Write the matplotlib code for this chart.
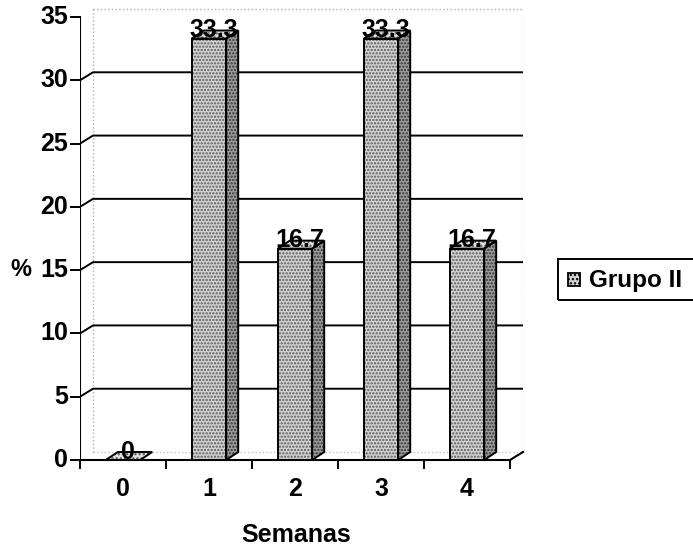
import matplotlib
matplotlib.use("Agg")
import matplotlib.pyplot as plt
from matplotlib.patches import Polygon, Rectangle

plt.rcParams['font.family'] = ['Liberation Sans', 'DejaVu Sans']
plt.rcParams['hatch.linewidth'] = 1.1

categories = ["0", "1", "2", "3", "4"]
values = [0, 33.3, 16.7, 33.3, 16.7]
value_labels = ["0", "33.3", "16.7", "33.3", "16.7"]
yticks = [0, 5, 10, 15, 20, 25, 30, 35]
series_name = "Grupo II"

W, H = 693, 551
fig = plt.figure(figsize=(W / 100, H / 100), dpi=100)
fig.patch.set_facecolor('white')

# axes spanning pixel x 80..523, y 460..8
ax = fig.add_axes([80 / W, (H - 460) / H, 443 / W, 452 / H])
ax.set_xlim(-0.5, -0.5 + 443 / 86)
ax.set_ylim(0, 452 / 12.657)
ax.axis('off')

dx, dy = 13 / 86, 8 / 12.657       # wall depth
bdx, bdy = 12 / 86, 8 / 12.657     # bar depth
bw = 0.4
n = len(categories)
xs = list(range(n))

# back wall (faint dotted)
ax.plot([-0.5 + dx, n - 0.5 + dx], [35 + dy, 35 + dy], color='#b0b0b0', lw=1, ls=':', zorder=1)
ax.plot([-0.5 + dx, -0.5 + dx], [dy, 35 + dy], color='#b0b0b0', lw=1, ls=':', zorder=1)
ax.plot([n - 0.5 + dx, n - 0.5 + dx], [dy, 35 + dy], color='#c0c0c0', lw=1, ls=':', zorder=1)
ax.plot([-0.5 + dx, n - 0.5 + dx], [dy, dy], color='#c0c0c0', lw=1, ls=':', zorder=1)

# gridlines with connectors
for v in yticks:
    ax.plot([-0.6, -0.5], [v, v], color='black', lw=1.4, zorder=2, clip_on=False)
    ax.text(-0.64, v, str(v), ha='right', va='center', fontsize=18, fontweight='bold', clip_on=False)
    if 0 < v < 35:
        ax.plot([-0.5, -0.5 + dx, n - 0.5 + dx], [v, v + dy, v + dy], color='black', lw=1.4, zorder=2)

# front y axis
ax.plot([-0.5, -0.5], [0, 35], color='black', lw=1.5, zorder=2)

# floor front edge and x ticks
ax.plot([-0.5, n - 0.5, n - 0.5 + dx], [0, 0, dy], color='black', lw=1.5, zorder=6, clip_on=False)
for k in range(n + 1):
    ax.plot([k - 0.5, k - 0.5], [0, -0.65], color='black', lw=1.4, zorder=6, clip_on=False)
for x, c in zip(xs, categories):
    ax.text(x, -2.29, c, ha='center', va='center', fontsize=18, fontweight='bold', clip_on=False)

# bars
front_col = '#d2d2d2'
side_col = '#9c9c9c'
dot_col = '#5a5a5a'
ax.bar(xs, values, width=bw, color=front_col, edgecolor=dot_col, hatch='.....', lw=0, zorder=4)
ax.bar(xs, values, width=bw, fill=False, edgecolor='black', lw=1.4, zorder=5)
for x, v in zip(xs, values):
    r = x + bw / 2
    l = x - bw / 2
    side = [(r, 0), (r + bdx, bdy), (r + bdx, v + bdy), (r, v)]
    top = [(l, v), (r, v), (r + bdx, v + bdy), (l + bdx, v + bdy)]
    if v > 0:
        ax.add_patch(Polygon(side, closed=True, facecolor=side_col, edgecolor='#333333',
                             hatch='.....', lw=0, zorder=4))
        ax.add_patch(Polygon(side, closed=True, fill=False, edgecolor='black', lw=1.4, zorder=5))
    ax.add_patch(Polygon(top, closed=True, facecolor='#e0e0e0', edgecolor=dot_col,
                         hatch='....', lw=0, zorder=4))
    ax.add_patch(Polygon(top, closed=True, fill=False, edgecolor='black', lw=1.4, zorder=5))

for x, v, lab in zip(xs, values, value_labels):
    ax.text(x + 0.06, v + 0.1, lab, ha='center', va='baseline', fontsize=18,
            fontweight='bold', zorder=7)

# axis titles
fig.text(21 / W, 1 - 270 / H, '%', ha='center', va='center', fontsize=17, fontweight='bold')
fig.text(296 / W, 1 - 535 / H, 'Semanas', ha='center', va='center', fontsize=18, fontweight='bold')

# legend
fig.patches.append(Rectangle((558 / W, 1 - 300 / H), 150 / W, 41 / H, transform=fig.transFigure,
                             fill=False, edgecolor='black', lw=1.4))
fig.patches.append(Rectangle((568 / W, 1 - 286 / H), 12 / W, 13 / H, transform=fig.transFigure,
                             facecolor=front_col, edgecolor='black', lw=1.3, hatch='....'))
fig.text(589 / W, 1 - 280 / H, series_name, ha='left', va='center', fontsize=17.5, fontweight='bold')

fig.savefig('out.png', dpi=100)
